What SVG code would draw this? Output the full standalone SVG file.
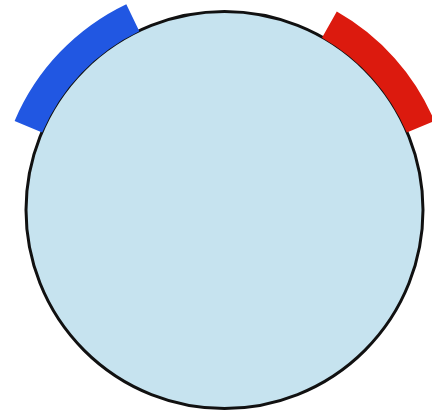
<svg xmlns="http://www.w3.org/2000/svg" width="432" height="416" viewBox="0 0 432 416">
  <style>
    .disc { fill: #c6e3ef; stroke: #111; stroke-width: 3; }
    .band { stroke: none; }
  </style>
  <rect width="432" height="416" fill="#ffffff"/>
  <g id="disc">
    <circle class="disc" cx="224.5" cy="210" r="198.5"/>
  </g>
  <g id="blue-band">
    <path class="band" fill="#2157e2" d="M14.6,120.9 A228,228 0 0 1 126.3,4.2 L139.3,31.3 A198,198 0 0 0 42.2,132.6 Z"/>
  </g>
  <g id="red-band">
    <path class="band" fill="#dc1a0e" d="M336.8,11.5 A228,228 0 0 1 434.4,120.9 L406.8,132.6 A198,198 0 0 0 322,37.7 Z"/>
  </g>
</svg>
